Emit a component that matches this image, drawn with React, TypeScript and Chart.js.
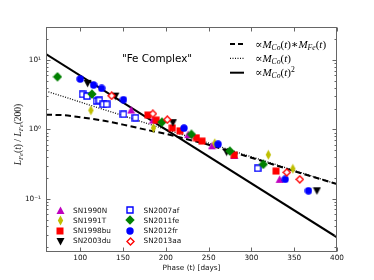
import React, { useEffect, useRef } from 'react';
import { Chart, registerables } from 'chart.js';

Chart.register(...registerables);

// ---- axis setup ----
const xRange = [60, 400];
const yRange = [0.017, 30];
const xTicks = [100, 150, 200, 250, 300, 350, 400];
const yDecades = [0.01, 0.1, 1, 10];
const yDecadeLabels: Record<string, string> = { '-1': '10⁻¹', '0': '10⁰', '1': '10¹' };

// ---- data: [phase (days), L_Fe(t)/L_Fe(200)] ----
const sn1990N = [[159.5, 1.9], [185, 1.36], [226, 0.84], [254, 0.58], [280, 0.42], [333, 0.19]];
const sn1991T = [[112.5, 1.88], [185.6, 1.05], [257.2, 0.63], [319.8, 0.43], [348.4, 0.27]];
const sn1998bu = [[179, 1.61], [188.8, 1.36], [207.6, 1.05], [216.5, 0.955], [235.7, 0.757], [242.3, 0.678], [279.9, 0.426], [328.8, 0.25]];
const sn2003du = [[108.6, 4.61], [141, 3.02], [208.3, 1.25], [271, 0.47], [376.5, 0.13]];
const sn2007af = [[102.7, 3.2], [107.9, 3.02], [119.1, 2.56], [122.3, 2.62], [126.9, 2.3], [130.8, 2.3], [150.5, 1.65], [164.5, 1.47], [307.3, 0.274]];
const sn2011fe = [[73.4, 5.74], [113.7, 3.23], [195.4, 1.27], [229.9, 0.85], [274.8, 0.486], [313.9, 0.313]];
const sn2012fr = [[100, 5.32], [115.6, 4.36], [125, 3.91], [150.5, 2.68], [221.2, 1.04], [261.1, 0.61], [339.4, 0.19], [366.7, 0.13]];
const sn2013aa = [[136.7, 3.05], [184.8, 1.68], [201.7, 1.38], [341.3, 0.24], [356.5, 0.19]];

// model curves
const coSquaredLine = [[60, 12.2], [400, 0.0277]];
const coLine = [[60, 3.57], [400, 0.162]];
const coFeLine = [[60, 1.63], [80, 1.6], [100, 1.5], [125, 1.35], [150, 1.17], [175, 1.0], [200, 0.86], [225, 0.72], [250, 0.6], [275, 0.48], [300, 0.39], [350, 0.25], [400, 0.162]];

const snNames = ['SN1990N', 'SN1991T', 'SN1998bu', 'SN2003du', 'SN2007af', 'SN2011fe', 'SN2012fr', 'SN2013aa'];
const snData = [sn1990N, sn1991T, sn1998bu, sn2003du, sn2007af, sn2011fe, sn2012fr, sn2013aa];
const snMarkers = ['triUp', 'thinDiamond', 'square', 'triDown', 'openSquare', 'diamond', 'circle', 'openDiamond'];
const snColors = ['#bf00bf', '#bfbf00', '#ff0000', '#000000', '#0000ff', '#008000', '#0000ff', '#ff0000'];

const MATH = '"Liberation Serif", "DejaVu Serif", serif';
const SANS = '"DejaVu Sans", sans-serif';

function makeMarker(kind: string, color: string): HTMLCanvasElement {
  const sizes: Record<string, number[]> = {
    triUp: [9, 9], triDown: [9, 9], thinDiamond: [7, 11], square: [8, 8],
    openSquare: [8, 8], diamond: [10, 10], circle: [8, 8], openDiamond: [9, 9],
  };
  const [w, h] = sizes[kind];
  const c = document.createElement('canvas');
  c.width = w; c.height = h;
  const g = c.getContext('2d')!;
  g.fillStyle = color; g.strokeStyle = color;
  g.beginPath();
  switch (kind) {
    case 'triUp':
      g.moveTo(w / 2, 0.5); g.lineTo(w - 0.5, h - 1); g.lineTo(0.5, h - 1); g.closePath(); g.fill(); break;
    case 'triDown':
      g.moveTo(0.5, 1); g.lineTo(w - 0.5, 1); g.lineTo(w / 2, h - 0.5); g.closePath(); g.fill(); break;
    case 'thinDiamond':
      g.moveTo(w / 2, 0.5); g.lineTo(w - 0.8, h / 2); g.lineTo(w / 2, h - 0.5); g.lineTo(0.8, h / 2); g.closePath(); g.fill(); break;
    case 'square':
      g.rect(0.5, 0.5, w - 1, h - 1); g.fill(); break;
    case 'openSquare':
      g.rect(1, 1, w - 2, h - 2); g.fillStyle = '#fff'; g.fill(); g.lineWidth = 1.4; g.stroke(); break;
    case 'diamond':
      g.moveTo(w / 2, 0.3); g.lineTo(w - 0.3, h / 2); g.lineTo(w / 2, h - 0.3); g.lineTo(0.3, h / 2); g.closePath(); g.fill(); break;
    case 'circle':
      g.arc(w / 2, h / 2, w / 2 - 0.3, 0, Math.PI * 2); g.fill(); break;
    case 'openDiamond':
      g.moveTo(w / 2, 1); g.lineTo(w - 1, h / 2); g.lineTo(w / 2, h - 1); g.lineTo(1, h / 2); g.closePath();
      g.fillStyle = '#fff'; g.fill(); g.lineWidth = 1.4; g.stroke(); break;
  }
  return c;
}

type Part = { t: string; it?: boolean; sub?: boolean; sup?: boolean };

function richWidth(ctx: CanvasRenderingContext2D, parts: Part[], size: number) {
  let w = 0;
  for (const p of parts) {
    const s = p.sub || p.sup ? size * 0.7 : size;
    ctx.font = `${p.it ? 'italic ' : ''}${s}px ${MATH}`;
    w += ctx.measureText(p.t).width;
  }
  return w;
}

function drawRich(ctx: CanvasRenderingContext2D, parts: Part[], x: number, y: number, size: number) {
  let cx = x;
  for (const p of parts) {
    const s = p.sub || p.sup ? size * 0.7 : size;
    ctx.font = `${p.it ? 'italic ' : ''}${s}px ${MATH}`;
    const dy = p.sub ? size * 0.22 : p.sup ? -size * 0.4 : 0;
    ctx.fillText(p.t, cx, y + dy);
    cx += ctx.measureText(p.t).width;
  }
}

const legendLines: Part[][] = [
  [{ t: '∝' }, { t: 'M', it: true }, { t: 'Co', it: true, sub: true }, { t: '(' }, { t: 't', it: true }, { t: ')' }, { t: '∗' }, { t: 'M', it: true }, { t: 'Fe', it: true, sub: true }, { t: '(' }, { t: 't', it: true }, { t: ')' }],
  [{ t: '∝' }, { t: 'M', it: true }, { t: 'Co', it: true, sub: true }, { t: '(' }, { t: 't', it: true }, { t: ')' }],
  [{ t: '∝' }, { t: 'M', it: true }, { t: 'Co', it: true, sub: true }, { t: '(' }, { t: 't', it: true }, { t: ')' }, { t: '2', sup: true }],
];
const yTitle: Part[] = [
  { t: 'L', it: true }, { t: 'Fe', it: true, sub: true }, { t: '(' }, { t: 't', it: true }, { t: ') / ' },
  { t: 'L', it: true }, { t: 'Fe', it: true, sub: true }, { t: '(200)' },
];

function isDecade(v: number) {
  const l = Math.log10(v);
  return Math.abs(l - Math.round(l)) < 1e-6;
}

export default function App() {
  const ref = useRef<HTMLCanvasElement>(null);
  useEffect(() => {
    const canvas = ref.current!;
    const markers = snMarkers.map((m, i) => makeMarker(m, snColors[i]));

    const yTickValues: number[] = [];
    for (const d of yDecades) for (let m = 1; m <= 9; m++) {
      const v = +(m * d).toPrecision(3);
      if (v >= yRange[0] && v <= yRange[1]) yTickValues.push(v);
    }

    const toXY = (arr: number[][]) => arr.map(([x, y]) => ({ x, y }));

    const datasets: any[] = snData.map((arr, i) => ({
      label: snNames[i],
      data: toXY(arr),
      pointStyle: markers[i],
      pointRadius: 4,
      pointHoverRadius: 4,
      showLine: false,
      order: 20 - i,
    }));
    datasets.push(
      { label: 'co2', data: toXY(coSquaredLine), showLine: true, pointRadius: 0, borderColor: '#000', borderWidth: 2, order: 100 },
      { label: 'co', data: toXY(coLine), showLine: true, pointRadius: 0, borderColor: '#111', borderWidth: 1.3, borderDash: [1, 1.5], order: 101 },
      { label: 'cofe', data: toXY(coFeLine), showLine: true, pointRadius: 0, borderColor: '#000', borderWidth: 2, borderDash: [6, 3.5], cubicInterpolationMode: 'monotone', order: 99 },
    );

    const decor = {
      id: 'decor',
      afterDraw(chart: any) {
        const { ctx, chartArea: a, scales } = chart;
        const xs = scales.x, ys = scales.y;
        const L = Math.round(a.left) + 0.5, R = Math.round(a.right) - 0.5;
        const T = Math.round(a.top) + 0.5, B = Math.round(a.bottom) - 0.5;
        ctx.save();
        ctx.strokeStyle = '#666';
        ctx.lineWidth = 1;
        ctx.strokeRect(L, T, R - L, B - T);
        ctx.beginPath();
        for (const v of xTicks) {
          const px = Math.round(xs.getPixelForValue(v)) + 0.5;
          ctx.moveTo(px, B); ctx.lineTo(px, B - 4);
          ctx.moveTo(px, T); ctx.lineTo(px, T + 4);
        }
        for (const t of ys.ticks) {
          const py = Math.round(ys.getPixelForValue(t.value)) + 0.5;
          const len = isDecade(t.value) ? 4 : 2;
          ctx.moveTo(L, py); ctx.lineTo(L + len, py);
          ctx.moveTo(R, py); ctx.lineTo(R - len, py);
        }
        ctx.stroke();

        // annotation
        ctx.fillStyle = '#000';
        ctx.font = `10.4px ${SANS}`;
        ctx.textAlign = 'center';
        ctx.textBaseline = 'alphabetic';
        ctx.fillText('"Fe Complex"', 157, 62);

        // line legend
        ctx.textAlign = 'left';
        const rowsY = [44, 58.3, 72.7];
        const textY = [47.5, 61.8, 76];
        const styles = [
          { dash: [5, 3], w: 2, c: '#000' },
          { dash: [1, 1.5], w: 1.3, c: '#111' },
          { dash: [], w: 2, c: '#000' },
        ];
        styles.forEach((s, i) => {
          ctx.beginPath();
          ctx.setLineDash(s.dash);
          ctx.lineWidth = s.w;
          ctx.strokeStyle = s.c;
          ctx.moveTo(230, rowsY[i]); ctx.lineTo(244, rowsY[i]);
          ctx.stroke();
          ctx.setLineDash([]);
          drawRich(ctx, legendLines[i], 255, textY[i], 11);
        });

        // marker legend
        const colX = [60, 130];
        const txtX = [73, 143.5];
        const rowY = [210.3, 220.4, 230.7, 241];
        ctx.font = `7.3px ${SANS}`;
        ctx.textBaseline = 'middle';
        snNames.forEach((n, i) => {
          const col = Math.floor(i / 4), row = i % 4;
          const m = markers[i];
          ctx.drawImage(m, Math.round(colX[col] - m.width / 2), Math.round(rowY[row] - m.height / 2));
          ctx.fillStyle = '#111';
          ctx.fillText(n, txtX[col], rowY[row] + 0.5);
        });

        // axis titles
        ctx.fillStyle = '#111';
        ctx.textAlign = 'center';
        ctx.textBaseline = 'middle';
        ctx.font = `7.3px ${SANS}`;
        ctx.fillText('Phase (t) [days]', (a.left + a.right) / 2, 268.5);

        ctx.save();
        ctx.translate(21, (a.top + a.bottom) / 2 - 5);
        ctx.rotate(-Math.PI / 2);
        ctx.textAlign = 'left';
        ctx.textBaseline = 'alphabetic';
        const w = richWidth(ctx, yTitle, 9.5);
        drawRich(ctx, yTitle, -w / 2, 0, 9.5);
        ctx.restore();

        ctx.restore();
      },
    };

    const chart = new Chart(canvas, {
      type: 'scatter',
      data: { datasets },
      options: {
        animation: false,
        responsive: false,
        maintainAspectRatio: false,
        events: [],
        layout: { padding: { left: 0, right: 37, top: 27, bottom: 0 } },
        plugins: { legend: { display: false }, tooltip: { enabled: false }, title: { display: false } },
        scales: {
          x: {
            type: 'linear', min: xRange[0], max: xRange[1],
            afterFit: (s: any) => { s.height = 28; },
            afterBuildTicks: (s: any) => { s.ticks = xTicks.map((v) => ({ value: v })); },
            grid: { display: false, drawTicks: false },
            border: { display: false },
            ticks: { font: { family: 'DejaVu Sans', size: 7.3 }, color: '#111', padding: 2, maxRotation: 0, autoSkip: false },
          },
          y: {
            type: 'logarithmic', min: yRange[0], max: yRange[1],
            afterFit: (s: any) => { s.width = 46; },
            afterBuildTicks: (s: any) => { s.ticks = yTickValues.map((v) => ({ value: v })); },
            grid: { display: false, drawTicks: false },
            border: { display: false },
            ticks: {
              font: { family: 'DejaVu Sans', size: 7.3 }, color: '#111', padding: 5, autoSkip: false,
              callback: (v: any) => {
                const l = Math.log10(Number(v));
                if (Math.abs(l - Math.round(l)) > 1e-6) return '';
                return yDecadeLabels[String(Math.round(l))] ?? '';
              },
            },
          },
        },
      } as any,
      plugins: [decor],
    });
    return () => chart.destroy();
  }, []);

  return (
    <div style={{ position: 'fixed', left: 0, top: 0, width: 374, height: 280, background: '#fff' }}>
      <canvas ref={ref} width={374} height={280} style={{ display: 'block' }} />
    </div>
  );
}
